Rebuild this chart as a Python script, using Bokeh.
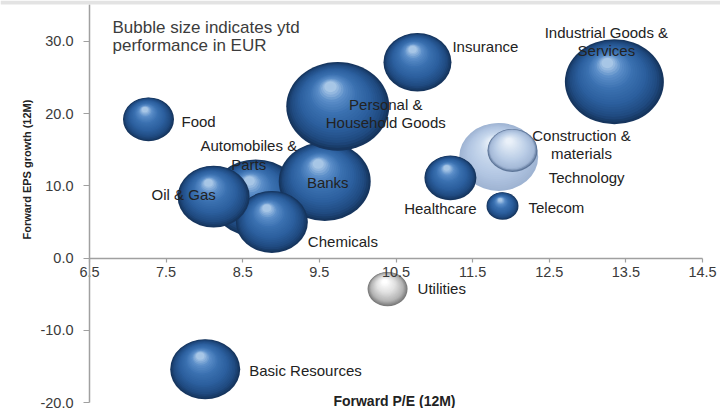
import math
from bokeh.plotting import figure
from bokeh.models import ColumnDataSource, FixedTicker, PrintfTickFormatter, Label, BoxAnnotation
from bokeh.core.properties import value
from bokeh.embed import file_html
from bokeh.resources import INLINE

# ---------------- data (drawing order: back to front) ----------------
sectors = ["Automobiles & Parts", "Banks", "Personal & Household Goods", "Chemicals",
           "Oil & Gas", "Technology", "Construction & materials", "Healthcare", "Telecom",
           "Food", "Insurance", "Industrial Goods & Services", "Utilities", "Basic Resources"]
forward_pe = [8.67, 9.57, 9.74, 8.88, 8.12, 11.84, 12.02, 11.21, 11.89, 7.27, 10.78, 13.35, 10.39, 8.01]
forward_eps_growth = [8.3, 10.6, 21.0, 5.0, 8.5, 14.0, 14.9, 11.1, 7.2, 19.2, 27.1, 24.4, -4.3, -15.4]
ytd_perf = [18.0, 18.4, 20.6, 14.4, 14.4, 15.8, 10.0, 10.4, 6.4, 10.2, 13.6, 19.8, 8.0, 14.0]

x_ticks = [6.5, 7.5, 8.5, 9.5, 10.5, 11.5, 12.5, 13.5, 14.5]
y_ticks = [-20, -10, 0, 10, 20, 30]

# ---------------- layout / style ----------------
W_PX, H_PX = 720, 408
X0, X1 = 6.5, 14.5          # axis extent
Y0, Y1 = -20.0, 35.1
PAD_L, PAD_R, PAD_T, PAD_B = 89, 18, 4, 6   # px around the axes box
PXU = (W_PX - PAD_L - PAD_R) / (X1 - X0)
PYU = (H_PX - PAD_T - PAD_B) / (Y1 - Y0)
XR = (X0 - PAD_L / PXU, X1 + PAD_R / PXU)
YR = (Y0 - PAD_B / PYU, Y1 + PAD_T / PYU)
SIZE_PX = 5.0        # px of bubble width per unit of ytd performance
SQUASH = 0.86        # vertical squash of the bubbles
FONT = "Liberation Sans"

label_text = {
    "Automobiles & Parts": "Automobiles &\nParts",
    "Personal & Household Goods": "Personal &\nHousehold Goods",
    "Construction & materials": "Construction &\nmaterials",
    "Industrial Goods & Services": "Industrial Goods &\nServices",
}
# label offsets from bubble centre (screen px) and alignment
label_style = {
    "Food": (33, 2, "left"),
    "Insurance": (35, -16, "left"),
    "Industrial Goods & Services": (-8, -40, "center"),
    "Personal & Household Goods": (48, 7, "center"),
    "Automobiles & Parts": (-7, -43, "center"),
    "Banks": (3, 1, "center"),
    "Oil & Gas": (-30, -2, "center"),
    "Chemicals": (36, 20, "left"),
    "Healthcare": (-10, 31, "center"),
    "Telecom": (26, 1, "left"),
    "Technology": (50, 21, "left"),
    "Construction & materials": (69, -6, "center"),
    "Utilities": (30, -1, "left"),
    "Basic Resources": (44, 1, "left"),
}
palettes = {
    "blue": [(0.0, "#16355e"), (0.12, "#1f4a80"), (0.35, "#2c5f9e"), (0.6, "#3a70b0"),
             (0.82, "#5a8dc8"), (1.0, "#a7c6e6")],
    "light": [(0.0, "#9fb4d3"), (0.3, "#b2c6e2"), (0.7, "#c8d8ed"), (1.0, "#e8f0f9")],
    "ring": [(0.0, "#5d7598"), (0.1, "#a3b8d6"), (0.4, "#bacde6"), (1.0, "#eaf1f9")],
    "grey": [(0.0, "#7a7a7a"), (0.2, "#b3b3b3"), (0.6, "#e2e2e2"), (1.0, "#ffffff")],
}
bubble_style = {"Technology": "light", "Construction & materials": "ring", "Utilities": "grey"}


def hex2rgb(h):
    return tuple(int(h[i:i + 2], 16) for i in (1, 3, 5))


def pal_color(pal, t):
    for (t0, c0), (t1, c1) in zip(pal[:-1], pal[1:]):
        if t <= t1:
            f = (t - t0) / (t1 - t0) if t1 > t0 else 0
            a, b = hex2rgb(c0), hex2rgb(c1)
            return "#%02x%02x%02x" % tuple(int(round(a[i] + (b[i] - a[i]) * f)) for i in range(3))
    return pal[-1][1]


p = figure(width=W_PX, height=H_PX, x_range=XR, y_range=YR,
           output_backend="svg", toolbar_location=None,
           min_border_left=0, min_border_right=0, min_border_top=0, min_border_bottom=0)
p.outline_line_color = None
p.grid.visible = False
p.background_fill_color = "white"
p.border_fill_color = "white"

# thin grey strip along the top edge
p.add_layout(BoxAnnotation(bottom=Y1, fill_color="#e3e3e3", fill_alpha=1.0, line_color=None))

# ---------------- bubbles with sphere shading ----------------
K = 24
HX, HY = -0.08, 0.25
for name, x, y, perf in zip(sectors, forward_pe, forward_eps_growth, ytd_perf):
    pal = palettes[bubble_style.get(name, "blue")]
    W = perf * SIZE_PX
    H = W * SQUASH
    xs, ys, ws, hs, cs = [], [], [], [], []
    for k in range(K):
        t = k / (K - 1)
        s = 1 - 0.88 * t
        xs.append(x + (1 - s) * HX * W / PXU)
        ys.append(y + (1 - s) * HY * H / PYU)
        ws.append(W * s)
        hs.append(H * s)
        cs.append(pal_color(pal, t))
    src = ColumnDataSource(dict(x=xs, y=ys, w=ws, h=hs, c=cs))
    p.ellipse(x="x", y="y", width="w", height="h", width_units="screen", height_units="screen",
              fill_color="c", line_color=None, source=src)

# ---------------- labels ----------------
lab = ColumnDataSource(dict(
    x=forward_pe, y=forward_eps_growth,
    text=[label_text.get(n, n) for n in sectors],
    xo=[label_style[n][0] for n in sectors],
    yo=[label_style[n][1] for n in sectors],
    al=[label_style[n][2] for n in sectors],
))
p.text(x="x", y="y", text="text", x_offset="xo", y_offset="yo", text_align="al",
       text_baseline="middle", text_font=value(FONT), text_font_size="15px",
       text_color="#222222", text_line_height=1.08, source=lab)

# ---------------- axes ----------------
for ax in (p.xaxis[0], p.yaxis[0]):
    ax.axis_line_color = "#a0a0a0"
    ax.axis_line_width = 1.5
    ax.major_tick_line_color = "#a0a0a0"
    ax.major_tick_line_width = 1.2
    ax.minor_tick_line_color = None
    ax.major_tick_in = 0
    ax.major_label_text_font = FONT
    ax.major_label_text_font_size = "14.5px"
    ax.major_label_text_color = "#3a3a3a"
    ax.formatter = PrintfTickFormatter(format="%.1f")

p.xaxis[0].ticker = FixedTicker(ticks=x_ticks)
p.xaxis[0].fixed_location = 0
p.xaxis[0].bounds = (X0, X1)
p.xaxis[0].major_tick_out = 4
p.xaxis[0].major_label_standoff = 5
p.yaxis[0].ticker = FixedTicker(ticks=y_ticks)
p.yaxis[0].fixed_location = X0
p.yaxis[0].bounds = (Y0, Y1)
p.yaxis[0].major_tick_out = 6
p.yaxis[0].major_label_standoff = 10

# axis titles and note
p.add_layout(Label(x=5.69, y=12.25, text="Forward EPS growth (12M)", angle=math.pi / 2,
                   text_align="center", text_baseline="middle", text_font=FONT,
                   text_font_size="11px", text_font_style="bold", text_color="#222222"))
p.add_layout(Label(x=10.48, y=-19.73, text="Forward P/E (12M)", text_align="center",
                   text_baseline="middle", text_font=FONT, text_font_size="14px",
                   text_font_style="bold", text_color="#222222"))
p.add_layout(Label(x=6.80, y=31.95, text="Bubble size indicates ytd", text_align="left",
                   text_baseline="alphabetic", text_font=FONT, text_font_size="17px",
                   text_color="#3c3c3c"))
p.add_layout(Label(x=6.80, y=29.42, text="performance in EUR", text_align="left",
                   text_baseline="alphabetic", text_font=FONT, text_font_size="17px",
                   text_color="#3c3c3c"))

open("out.html", "w").write(file_html(p, INLINE))
